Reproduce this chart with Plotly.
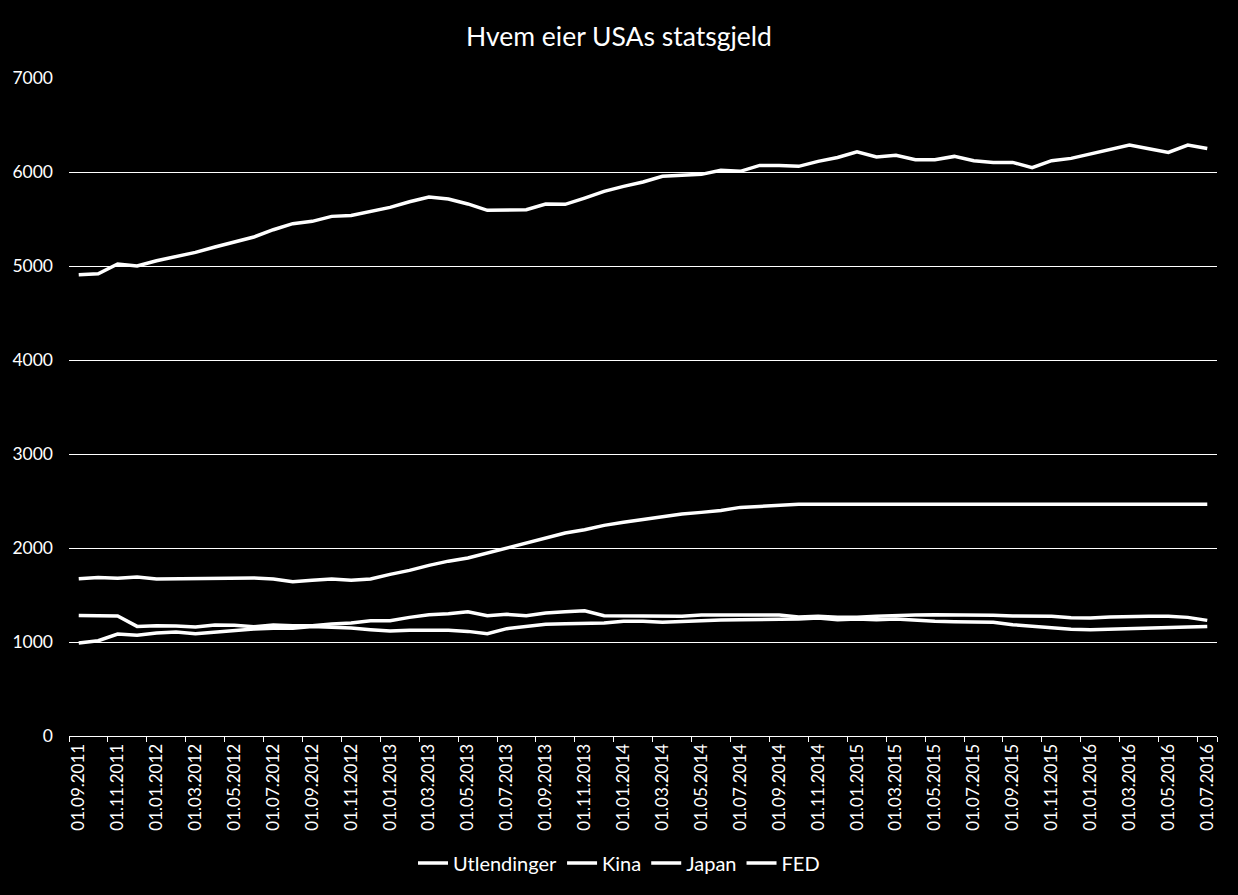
import plotly.graph_objects as go

dates = [
    "01.09.2011", "01.10.2011", "01.11.2011", "01.12.2011",
    "01.01.2012", "01.02.2012", "01.03.2012", "01.04.2012", "01.05.2012", "01.06.2012",
    "01.07.2012", "01.08.2012", "01.09.2012", "01.10.2012", "01.11.2012", "01.12.2012",
    "01.01.2013", "01.02.2013", "01.03.2013", "01.04.2013", "01.05.2013", "01.06.2013",
    "01.07.2013", "01.08.2013", "01.09.2013", "01.10.2013", "01.11.2013", "01.12.2013",
    "01.01.2014", "01.02.2014", "01.03.2014", "01.04.2014", "01.05.2014", "01.06.2014",
    "01.07.2014", "01.08.2014", "01.09.2014", "01.10.2014", "01.11.2014", "01.12.2014",
    "01.01.2015", "01.02.2015", "01.03.2015", "01.04.2015", "01.05.2015", "01.06.2015",
    "01.07.2015", "01.08.2015", "01.09.2015", "01.10.2015", "01.11.2015", "01.12.2015",
    "01.01.2016", "01.02.2016", "01.03.2016", "01.04.2016", "01.05.2016", "01.06.2016",
    "01.07.2016",
]

utlendinger = [
    4907, 4918, 5021, 5000, 5056, 5102, 5145, 5202, 5251, 5308,
    5386, 5450, 5475, 5528, 5538, 5581, 5624, 5684, 5734, 5713,
    5660, 5592, 5592, 5599, 5660, 5656, 5723, 5794, 5847, 5894,
    5954, 5964, 5975, 6018, 6007, 6070, 6070, 6060, 6113, 6155,
    6216, 6160, 6177, 6131, 6131, 6166, 6120, 6102, 6102, 6046,
    6120, 6145, 6195, 6245, 6287, 6248, 6209, 6287, 6251,
]

kina = [
    1283, 1276, 1276, 1166, 1173, 1170, 1159, 1181, 1177, 1163,
    1181, 1173, 1173, 1191, 1202, 1227, 1227, 1262, 1290, 1300,
    1322, 1280, 1294, 1280, 1308, 1322, 1333, 1280, 1280, 1280,
    1280, 1273, 1287, 1287, 1280, 1287, 1287, 1266, 1273, 1262,
    1262, 1273, 1284, 1287, 1291, 1291, 1291, 1284, 1277, 1273,
    1273, 1259, 1255, 1266, 1273, 1273, 1273, 1262, 1230,
]

japan = [
    989, 1014, 1085, 1071, 1095, 1106, 1088, 1106, 1124, 1138,
    1145, 1145, 1166, 1159, 1149, 1131, 1117, 1124, 1124, 1124,
    1113, 1088, 1142, 1163, 1188, 1195, 1198, 1202, 1220, 1220,
    1209, 1220, 1230, 1234, 1237, 1237, 1244, 1244, 1255, 1237,
    1244, 1237, 1244, 1230, 1220, 1216, 1216, 1209, 1184, 1166,
    1152, 1135, 1131, 1135, 1138, 1145, 1152, 1159, 1166,
]

fed = [
    1673, 1687, 1677, 1691, 1670, 1673, 1681, 1681, 1681, 1681,
    1670, 1641, 1656, 1670, 1656, 1670, 1719, 1762, 1815, 1860,
    1893, 1946, 2006, 2053, 2106, 2160, 2195, 2241, 2273, 2301,
    2330, 2362, 2379, 2400, 2432, 2443, 2453, 2465, 2465, 2465,
    2465, 2465, 2465, 2465, 2465, 2465, 2465, 2465, 2465, 2465,
    2465, 2465, 2465, 2465, 2465, 2465, 2465, 2465, 2465,
]

series = [
    ("Utlendinger", utlendinger),
    ("Kina", kina),
    ("Japan", japan),
    ("FED", fed),
]

tick_labels = dates[::2]

fig = go.Figure()
for name, vals in series:
    fig.add_trace(go.Scatter(
        x=dates, y=vals, mode="lines", name=name,
        line=dict(color="white", width=3.5),
    ))

FONT = "Lato"

fig.update_layout(
    width=1238, height=895,
    paper_bgcolor="black", plot_bgcolor="black",
    margin=dict(l=69, r=21, t=78, b=159),
    font=dict(family=FONT, color="white"),
    title=dict(
        text="Hvem eier USAs statsgjeld",
        x=0.5, xanchor="center", xref="container",
        y=1 - 37 / 895, yanchor="middle", yref="container",
        font=dict(family=FONT, size=26.5, color="white"),
    ),
    legend=dict(
        orientation="h", x=0.5, xanchor="center", xref="container",
        y=1 - 863 / 895, yanchor="middle", yref="container",
        font=dict(family=FONT, size=20, color="white"),
        bgcolor="rgba(0,0,0,0)",
    ),
    showlegend=True,
)

fig.update_xaxes(
    type="category", range=[-0.5, 58.5],
    tickmode="array", tickvals=tick_labels, ticktext=tick_labels,
    tickson="boundaries", ticks="outside", ticklen=5, tickcolor="white", tickwidth=1,
    showline=True, linecolor="white", linewidth=1,
    tickangle=-90, tickfont=dict(family=FONT, size=17, color="white"),
    showgrid=False, zeroline=False,
)
fig.update_yaxes(
    range=[0, 7000], tickmode="linear", tick0=0, dtick=1000,
    showgrid=True, gridcolor="white", gridwidth=1,
    zeroline=False, showline=False, ticks="",
    tickfont=dict(family=FONT, size=17.5, color="white"),
    ticklabelstandoff=15,
)

fig.write_html("out.html")
